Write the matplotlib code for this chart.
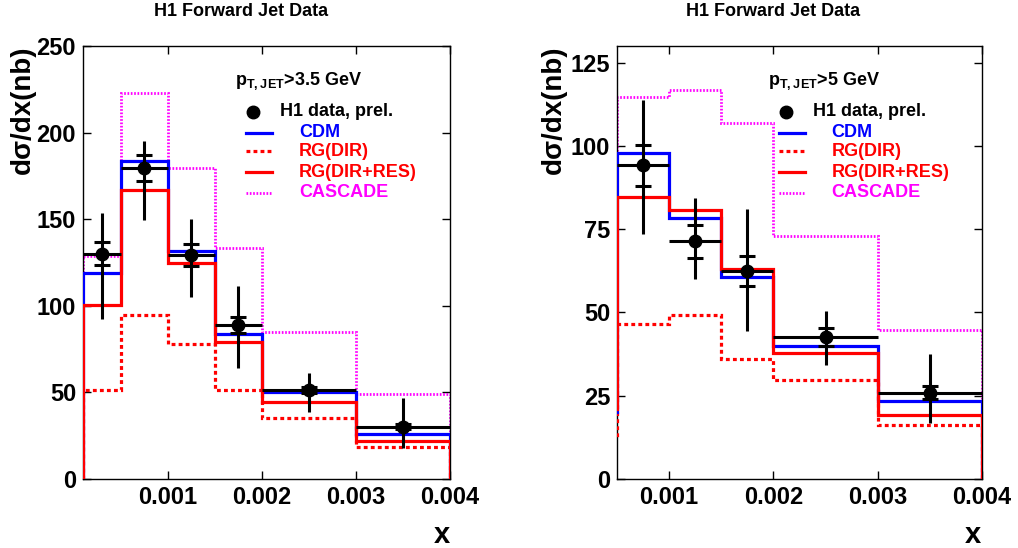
import numpy as np
import matplotlib
matplotlib.use("Agg")
import matplotlib.pyplot as plt

plt.rcParams['font.family'] = ['Liberation Sans', 'DejaVu Sans']
plt.rcParams['font.weight'] = 'bold'
plt.rcParams['mathtext.fontset'] = 'custom'
plt.rcParams['mathtext.bf'] = 'Liberation Sans:bold'
plt.rcParams['mathtext.rm'] = 'Liberation Sans:bold'

# ---- data: pT > 3.5 GeV (left) ----
edges_a = [0.0001, 0.0005, 0.001, 0.0015, 0.002, 0.003, 0.004]
x_a = [0.0003, 0.00075, 0.00125, 0.00175, 0.0025, 0.0035]
data_a = [130, 179.4, 129.3, 88.9, 51.4, 30.2]
err_up_a = [23.6, 16.0, 21.0, 22.7, 10.0, 16.4]
err_dn_a = [37.6, 30.0, 24.0, 25.0, 12.5, 12.5]
stat_a = [6.7, 7.4, 6.5, 4.7, 2.0, 1.5]
cdm_a = [119.2, 183.6, 131.6, 83.7, 50.2, 26.0]
rgdir_a = [51.4, 94.7, 77.7, 51.4, 35.4, 18.3]
rgres_a = [100.5, 166.9, 124.5, 78.9, 44.3, 21.9]
casc_a = [128.8, 222.7, 179.4, 133.2, 85.0, 49.1]

# ---- data: pT > 5 GeV (right) ----
edges_b = [0.0001, 0.0005, 0.001, 0.0015, 0.002, 0.003, 0.004]
x_b = [0.00075, 0.00125, 0.00175, 0.0025, 0.0035]
data_b = [94.2, 71.4, 62.5, 42.6, 25.9]
err_up_b = [19.6, 13.0, 18.7, 7.7, 11.6]
err_dn_b = [20.5, 11.4, 18.2, 8.3, 9.2]
stat_b = [6.1, 4.9, 4.6, 2.7, 1.9]
cdm_b = [20.0, 98.0, 78.3, 60.6, 40.0, 23.5]
rgdir_b = [12.5, 46.4, 49.3, 35.9, 29.6, 16.3]
rgres_b = [21.0, 84.6, 80.9, 63.0, 37.7, 19.3]
casc_b = [20.0, 114.6, 116.7, 106.9, 73.0, 44.8]

xticks = [0.001, 0.002, 0.003, 0.004]
xtick_labels = ['0.001', '0.002', '0.003', '0.004']

W, H = 1018, 548
fig = plt.figure(figsize=(W / 100, H / 100), dpi=100)


def panel(rect, edges, x, data, eup, edn, stat, cdm, rgdir, rgres, casc,
          xlim, ylim, yticks, header):
    ax = fig.add_axes(rect)
    lw = 2.3
    ax.stairs(casc, edges, baseline=0, color='#ff00ff', lw=2.0,
              linestyle=(0, (0.6, 0.6)), zorder=2)
    ax.stairs(rgdir, edges, baseline=0, color='#ff0000', lw=lw,
              linestyle=(0, (1.2, 1.0)), zorder=3)
    ax.stairs(cdm, edges, baseline=0, color='#0000ff', lw=lw, zorder=4)
    ax.stairs(rgres, edges, baseline=0, color='#ff0000', lw=lw, zorder=5)

    x = np.array(x)
    # half widths of the bins where the points sit
    e = np.array(edges)
    idx = np.searchsorted(e, x) - 1
    xerr = [x - e[idx], e[idx + 1] - x]
    ax.errorbar(x, data, xerr=xerr, yerr=[edn, eup], fmt='o', color='black',
                ms=9, lw=2.2, capsize=0, zorder=6)
    d = np.array(data)
    s = np.array(stat)
    ax.plot(np.r_[x, x], np.r_[d + s, d - s], ls='none', marker='_',
            ms=12, mew=2.2, color='black', zorder=6)

    ax.set_xlim(*xlim)
    ax.set_ylim(*ylim)
    ax.set_xticks(xticks)
    ax.set_xticklabels(xtick_labels)
    ax.set_yticks(yticks)
    ax.tick_params(direction='in', length=6, width=1, top=True, right=True,
                   labelsize=17, pad=5)
    for lab in ax.get_xticklabels() + ax.get_yticklabels():
        lab.set_fontweight('bold')
    for sp in ax.spines.values():
        sp.set_linewidth(1.0)

    # legend, ROOT style
    tr = ax.transAxes
    fs = 13
    ax.text(0.414, 0.919, header, transform=tr, fontsize=fs,
            fontweight='bold', va='center', ha='left')
    ys = [0.848, 0.800, 0.757, 0.709, 0.661]
    ax.plot([0.463], [ys[0]], 'o', color='black', ms=9, transform=tr,
            clip_on=False)
    ax.text(0.537, ys[0], 'H1 data, prel.', transform=tr, fontsize=fs,
            fontweight='bold', va='center', color='black')
    styles = [('#0000ff', '-', lw, 'CDM'),
              ('#ff0000', (0, (1.2, 1.0)), lw, 'RG(DIR)'),
              ('#ff0000', '-', lw, 'RG(DIR+RES)'),
              ('#ff00ff', (0, (0.6, 0.6)), 2.0, 'CASCADE')]
    for yy, (c, ls, w, name) in zip(ys[1:], styles):
        ax.plot([0.444, 0.515], [yy, yy], color=c, ls=ls, lw=w, transform=tr)
        ax.text(0.588, yy, name, transform=tr, fontsize=fs,
                fontweight='bold', va='center', color=c)
    return ax


axL = panel([83 / W, (H - 479) / H, 367 / W, 433 / H], edges_a, x_a, data_a,
            err_up_a, err_dn_a, stat_a, cdm_a, rgdir_a, rgres_a, casc_a,
            (0.0001, 0.004), (0, 250), [0, 50, 100, 150, 200, 250],
            r'$\mathbf{p}_{\mathbf{T,JET}}$>3.5 GeV')
axR = panel([617 / W, (H - 479) / H, 365 / W, 433 / H], edges_b, x_b, data_b,
            err_up_b, err_dn_b, stat_b, cdm_b, rgdir_b, rgres_b, casc_b,
            (0.0005, 0.004), (0, 130), [0, 25, 50, 75, 100, 125],
            r'$\mathbf{p}_{\mathbf{T,JET}}$>5 GeV')

for cx in (241, 773):
    fig.text(cx / W, 1 - 12 / H, 'H1 Forward Jet Data', ha='center',
             va='center', fontsize=13, fontweight='bold')
for cx in (23, 554):
    fig.text(cx / W, 1 - 46 / H, u'd\u03c3/dx(nb)', rotation=90, ha='center',
             va='top', fontsize=20, fontweight='bold')
for cx in (442, 973):
    fig.text(cx / W, 1 - 535 / H, 'x', ha='center', va='center', fontsize=21,
             fontweight='bold')

fig.savefig('out.png', dpi=100)
